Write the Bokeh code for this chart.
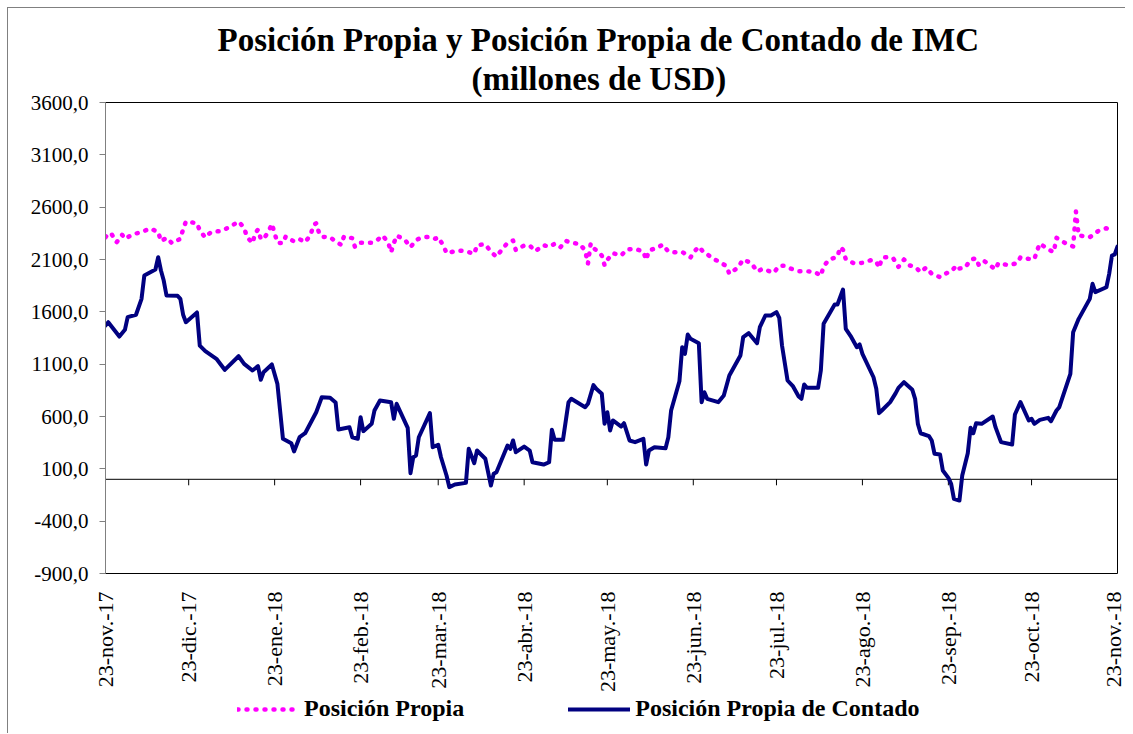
import math
import pandas as pd
from bokeh.plotting import figure
from bokeh.layouts import column
from bokeh.models import Range1d, FixedTicker, LinearAxis, Legend, LegendItem, Span, Title
from bokeh.embed import file_html
from bokeh.resources import INLINE

# ---------------- data ----------------
inicio = "2017-11-23"
etiquetas_x = ["23-nov.-17", "23-dic.-17", "23-ene.-18", "23-feb.-18", "23-mar.-18",
               "23-abr.-18", "23-may.-18", "23-jun.-18", "23-jul.-18", "23-ago.-18",
               "23-sep.-18", "23-oct.-18", "23-nov.-18"]
ticks_y = [-900, -400, 100, 600, 1100, 1600, 2100, 2600, 3100, 3600]

# Posición Propia (days after 23-nov-17, millions of USD)
dias_pp = [0, 1, 2, 4, 5, 6, 7, 10, 13, 16, 19, 20, 22, 24, 27, 28, 29, 33, 34, 36, 38, 42, 45, 48,
           50, 51, 53, 54, 55, 56, 57, 59, 60, 61, 62, 64, 65, 68, 70, 72, 74, 75, 76, 77, 78, 81,
           83, 85, 86, 89, 90, 92, 96, 98, 100, 102, 103, 104, 105, 108, 110, 112, 114, 117, 119,
           120, 122, 123, 127, 130, 133, 134, 137, 139, 141, 143, 145, 147, 148, 151, 153, 155,
           158, 160, 162, 164, 166, 168, 171, 173, 174, 175, 176, 179, 180, 181, 183, 186, 188,
           191, 194, 195, 196, 199, 201, 203, 206, 208, 211, 212, 214, 216, 217, 219, 221, 223,
           224, 225, 228, 230, 233, 235, 237, 241, 242, 243, 245, 247, 250, 253, 256, 258, 259,
           261, 264, 265, 266, 267, 270, 273, 276, 278, 279, 280, 281, 284, 286, 288, 290, 292,
           294, 296, 298, 301, 303, 305, 307, 308, 310, 312, 314, 315, 317, 319, 321, 322, 326,
           329, 330, 333, 335, 336, 337, 340, 342, 343, 346, 349, 350, 351, 355, 358, 361, 363]
pos_propia = [2313, 2345, 2351, 2265, 2298, 2336, 2298, 2342, 2361, 2396, 2365, 2275, 2307, 2256,
              2298, 2389, 2463, 2447, 2377, 2310, 2361, 2374, 2415, 2463, 2403, 2317, 2256, 2351,
              2387, 2298, 2294, 2377, 2441, 2351, 2259, 2256, 2320, 2272, 2294, 2265, 2336, 2428,
              2447, 2355, 2317, 2313, 2272, 2240, 2320, 2304, 2218, 2259, 2259, 2285, 2329, 2259,
              2170, 2256, 2329, 2288, 2218, 2285, 2310, 2317, 2298, 2313, 2227, 2160, 2186, 2179,
              2154, 2237, 2246, 2173, 2126, 2196, 2259, 2281, 2189, 2234, 2234, 2179, 2237, 2221,
              2250, 2215, 2279, 2259, 2250, 2186, 2060, 2253, 2212, 2138, 2045, 2097, 2160, 2138,
              2196, 2202, 2176, 2097, 2186, 2212, 2243, 2176, 2167, 2173, 2119, 2164, 2224, 2160,
              2151, 2107, 2084, 2052, 2036, 1963, 2021, 2100, 2065, 1985, 2011, 1973, 2007, 2040,
              2040, 2014, 1988, 1988, 1979, 1944, 2036, 2100, 2126, 2218, 2193, 2103, 2062, 2068,
              2093, 2081, 2021, 2110, 2122, 2116, 2030, 2100, 2043, 2030, 1979, 2024, 1963, 1931,
              1966, 1985, 2045, 2014, 2021, 2097, 2113, 2045, 2084, 2045, 2005, 2065, 2045, 2068,
              2122, 2106, 2103, 2186, 2253, 2196, 2170, 2307, 2259, 2224, 2559, 2330, 2313, 2371,
              2399, 2351]

# Posición Propia de Contado
dias_ppc = [0, 1, 5, 7, 8, 11, 13, 14, 18, 19, 20, 21, 22, 26, 27, 28, 29, 33, 34, 36, 40, 43, 48,
            50, 53, 55, 56, 57, 60, 62, 64, 67, 68, 70, 72, 76, 78, 81, 83, 84, 88, 89, 91, 92, 93,
            96, 97, 99, 103, 104, 105, 109, 110, 111, 112, 113, 117, 118, 120, 121, 123, 124, 126,
            130, 131, 133, 134, 137, 139, 140, 141, 145, 146, 147, 148, 151, 153, 154, 158, 160,
            161, 162, 165, 167, 168, 173, 174, 176, 177, 179, 180, 181, 182, 183, 186, 187, 189,
            191, 194, 195, 196, 198, 202, 203, 204, 207, 208, 209, 210, 211, 214, 215, 216, 217,
            221, 223, 225, 229, 230, 232, 235, 236, 238, 240, 242, 243, 244, 246, 248, 250, 251,
            252, 253, 257, 258, 259, 263, 264, 266, 267, 269, 271, 272, 273, 277, 278, 279, 280,
            283, 285, 286, 288, 291, 292, 293, 294, 297, 298, 299, 301, 302, 304, 305, 306, 308,
            309, 311, 312, 313, 314, 316, 320, 321, 323, 327, 328, 330, 333, 334, 335, 337, 340,
            341, 343, 344, 348, 349, 351, 355, 356, 357, 361, 362, 363, 364, 365]
pos_contado = [1469, 1501, 1364, 1428, 1549, 1572, 1724, 1947, 2004, 2122, 1995, 1899, 1756, 1753,
               1724, 1572, 1501, 1594, 1278, 1224, 1151, 1046, 1176, 1103, 1039, 1081, 951, 1023,
               1097, 912, 387, 345, 266, 402, 440, 641, 784, 779, 734, 476, 498, 402, 387, 593,
               460, 530, 657, 753, 737, 578, 721, 492, 58, 211, 227, 402, 632, 307, 330, 211, 36,
               -75, -50, -34, 291, 154, 275, 196, -59, 53, 68, 323, 291, 371, 259, 313, 275, 163,
               141, 163, 473, 377, 377, 737, 769, 689, 721, 900, 865, 817, 530, 641, 466, 562,
               504, 536, 371, 355, 387, 141, 275, 307, 297, 402, 657, 937, 1262, 1199, 1383, 1342,
               1300, 737, 832, 769, 737, 801, 992, 1183, 1358, 1396, 1300, 1453, 1565, 1565, 1597,
               1543, 1278, 944, 887, 791, 769, 906, 874, 874, 1039, 1486, 1670, 1670, 1813, 1438,
               1358, 1262, 1288, 1199, 975, 865, 632, 657, 737, 823, 874, 928, 855, 769, 530, 440,
               412, 371, 244, 237, 84, 14, -43, -186, -203, 36, 249, 492, 440, 536, 530, 600, 498,
               355, 332, 619, 737, 562, 578, 530, 568, 587, 555, 657, 689, 1008, 1405, 1533, 1724,
               1868, 1788, 1835, 1963, 2138, 2148, 2224]

# ---------------- derived ticks ----------------
t0 = pd.Timestamp(inicio)
fechas_ticks = pd.date_range(inicio, periods=len(etiquetas_x), freq=pd.DateOffset(months=1))
ticks_x = [int((d - t0).days) for d in fechas_ticks]

FONT = "Liberation Serif"
Y0, Y1 = -900, 3600
FRAME_H = 471
units_per_px = (Y1 - Y0) / FRAME_H

STYLE_PP = dict(line_color="#FF00FF", line_width=4.5, line_dash="1 8",
                line_cap="round", line_join="round")
STYLE_PPC = dict(line_color="#000080", line_width=4, line_cap="round", line_join="round")

p = figure(width=1117, height=688,
           x_range=Range1d(0, 365), y_range=Range1d(Y0, Y1),
           x_axis_type=None, y_axis_type=None,
           output_backend="svg", toolbar_location=None,
           min_border_left=97, min_border_right=8, min_border_top=94, min_border_bottom=123,
           background_fill_color="white", border_fill_color="white")
p.grid.visible = False
p.outline_line_color = "black"
p.outline_line_width = 1

# title (two lines, first added is closest to the frame)
t2 = Title(text="(millones de USD)", align="left", offset=366,
           text_font=FONT, text_font_style="bold", text_font_size="33px",
           text_color="black", standoff=12)
t1 = Title(text="Posición Propia y Posición Propia de Contado de IMC", align="left",
           offset=112, text_font=FONT, text_font_style="bold", text_font_size="33px",
           text_color="black", standoff=-10)
p.add_layout(t2, "above")
p.add_layout(t1, "above")

# y axis
yaxis = LinearAxis(ticker=FixedTicker(ticks=ticks_y),
                   major_label_overrides={v: f"{v:.1f}".replace(".", ",") for v in ticks_y})
yaxis.axis_line_color = "#808080"
yaxis.major_tick_line_color = "#808080"
yaxis.major_tick_out = 6
yaxis.major_tick_in = 0
yaxis.minor_tick_line_color = None
yaxis.major_label_text_font = FONT
yaxis.major_label_text_font_size = "21px"
yaxis.major_label_text_color = "black"
yaxis.major_label_standoff = 11
p.add_layout(yaxis, "left")

# x axis labels at bottom
xaxis = LinearAxis(ticker=FixedTicker(ticks=ticks_x),
                   major_label_overrides={t: lab for t, lab in zip(ticks_x, etiquetas_x)})
xaxis.axis_line_color = None
xaxis.major_tick_line_color = None
xaxis.minor_tick_line_color = None
xaxis.major_label_orientation = math.pi / 2
xaxis.major_label_text_font = FONT
xaxis.major_label_text_font_size = "22px"
xaxis.major_label_text_color = "black"
xaxis.major_label_standoff = 12
p.add_layout(xaxis, "below")

# category axis crossing at zero, with its tick marks
p.add_layout(Span(location=0, dimension="width", line_color="black", line_width=1,
                  level="underlay"))
p.segment(x0=ticks_x, y0=[0] * len(ticks_x), x1=ticks_x,
          y1=[-6 * units_per_px] * len(ticks_x), line_color="black", line_width=1)

p.line(dias_pp, pos_propia, **STYLE_PP)
p.line(dias_ppc, pos_contado, **STYLE_PPC)

# legend strip below the chart (its frame is aligned with the chart frame)
nan = float("nan")
leg = figure(width=1117, height=37, x_axis_type=None, y_axis_type=None,
             x_range=Range1d(0, 1), y_range=Range1d(0, 1),
             output_backend="svg", toolbar_location=None, min_border=0,
             background_fill_color="white", border_fill_color="white")
leg.grid.visible = False
leg.outline_line_color = None
lr1 = leg.line(x=[nan], y=[nan], **STYLE_PP)
lr2 = leg.line(x=[nan], y=[nan], **STYLE_PPC)

legend = Legend(items=[LegendItem(label="Posición Propia", renderers=[lr1]),
                       LegendItem(label="Posición Propia de Contado", renderers=[lr2])],
                orientation="horizontal", location=(132, 11))
legend.label_text_font = FONT
legend.label_text_font_style = "bold"
legend.label_text_font_size = "24px"
legend.label_text_color = "black"
legend.glyph_width = 62
legend.glyph_height = 24
legend.label_height = 24
legend.label_standoff = 5
legend.spacing = 104
legend.padding = 0
legend.margin = 0
legend.border_line_color = None
legend.background_fill_alpha = 0
leg.add_layout(legend, "center")

layout = column(p, leg, spacing=0,
                styles={"margin-left": "7px", "margin-top": "7px",
                        "border-top": "1px solid #808080", "border-left": "1px solid #808080"})

open("out.html", "w").write(file_html(layout, INLINE))
